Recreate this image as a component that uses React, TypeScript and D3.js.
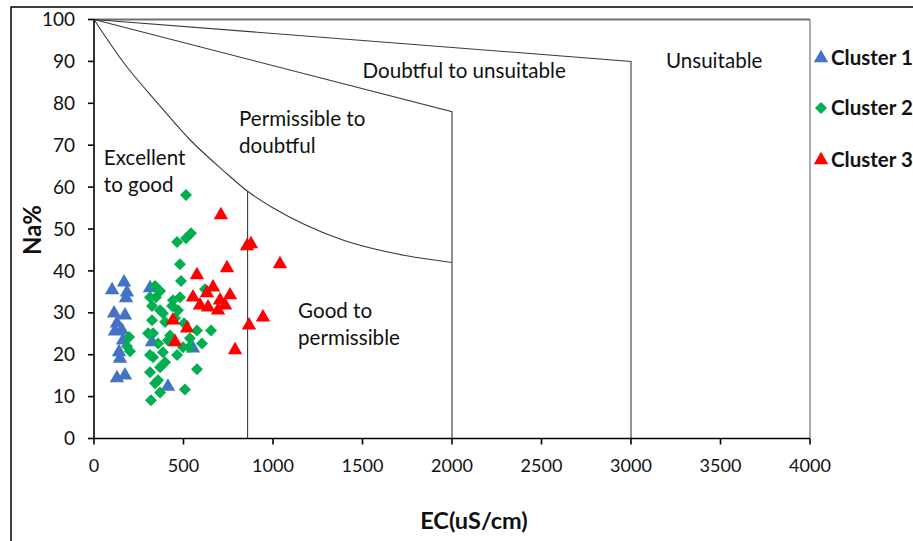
import React from "react";
import * as d3 from "d3";

// ---- Data (EC in uS/cm, Na in %) ----
const cluster1EC = [101, 168, 184, 179, 112, 173, 128, 117, 156, 162, 145, 128, 173, 313, 324, 553, 413, 140];
const cluster1Na = [35.4, 37.3, 34.9, 33.5, 29.9, 29.4, 27.5, 25.6, 25.8, 23.4, 19.1, 14.4, 15.1, 35.9, 23.0, 21.5, 12.4, 20.6];

const cluster2EC = [514, 542, 514, 464, 480, 486, 341, 369, 620, 480, 313, 324, 436, 469, 385, 324, 397, 503, 575, 654, 330, 425, 358, 603, 497, 385, 330, 369, 575, 313, 341, 508, 369, 318, 196, 201, 184, 313, 346, 369, 302, 453, 413, 536, 464, 397, 358, 441, 531];
const cluster2Na = [58.1, 49.0, 47.8, 46.9, 41.6, 37.6, 36.4, 35.2, 35.6, 33.7, 33.7, 31.6, 31.6, 30.6, 29.9, 28.2, 27.8, 27.5, 25.8, 25.8, 25.1, 24.6, 22.7, 22.7, 21.8, 20.6, 19.4, 17.0, 16.5, 15.8, 13.2, 11.7, 11.0, 9.1, 24.2, 20.8, 22.0, 19.9, 33.7, 30.6, 25.1, 28.7, 23.4, 23.9, 19.9, 18.2, 13.9, 33.0, 21.8];

const cluster3EC = [709, 855, 877, 1039, 743, 575, 665, 760, 631, 553, 592, 637, 693, 732, 944, 866, 441, 520, 453, 788, 704];
const cluster3Na = [53.3, 45.9, 46.4, 41.6, 40.7, 39.0, 36.1, 34.2, 34.7, 33.7, 31.8, 31.3, 30.6, 31.8, 28.9, 27.0, 28.2, 26.3, 23.0, 21.1, 33.0];

// Wilcox diagram boundaries [EC, Na]
const unsuitableLine: [number, number][] = [[0, 100], [3000, 90], [3000, 0]];
const doubtfulLine: [number, number][] = [[0, 100], [2000, 78], [2000, 0]];
const permissibleCurve: [number, number][] = [
  [0, 100], [164, 89.8], [350, 80.3], [536, 71.3], [721, 64.0], [858, 59.0],
  [1002, 55.0], [1374, 47.6], [1747, 43.6], [2000, 42],
];
const goodLine: [number, number][] = [[858, 59.0], [858, 0]];

const xTicks = [0, 500, 1000, 1500, 2000, 2500, 3000, 3500, 4000];
const yTicks = [0, 10, 20, 30, 40, 50, 60, 70, 80, 90, 100];

const zoneLabels = [
  { lines: ["Excellent", "to good"], ec: 55, na: 65.3 },
  { lines: ["Permissible to", "doubtful"], ec: 810, na: 74.6 },
  { lines: ["Doubtful to unsuitable"], ec: 1500, na: 86.0 },
  { lines: ["Unsuitable"], ec: 3195, na: 88.4 },
  { lines: ["Good to", "permissible"], ec: 1140, na: 28.8 },
];

const seriesNames = ["Cluster 1", "Cluster 2", "Cluster 3"];
const seriesColors = ["#4472C4", "#00B050", "#FF0000"];

export default function App() {
  const W = 913, H = 541;
  const x = d3.scaleLinear().domain([0, 4000]).range([94, 810]);
  const y = d3.scaleLinear().domain([0, 100]).range([438.5, 19.5]);

  const straight = d3.line<[number, number]>().x(d => x(d[0])).y(d => y(d[1]));
  const smooth = d3.line<[number, number]>().x(d => x(d[0])).y(d => y(d[1])).curve(d3.curveMonotoneX);

  const tri = d3.symbol().type(d3.symbolTriangle).size(90)()!;
  const dia = d3.symbol().type(d3.symbolSquare).size(72)()!;

  const font = "Lato, 'Open Sans', sans-serif";
  const lineColor = "#3a3a3a";

  const series = [
    { ec: cluster1EC, na: cluster1Na, path: tri, rot: 0 },
    { ec: cluster2EC, na: cluster2Na, path: dia, rot: 45 },
    { ec: cluster3EC, na: cluster3Na, path: tri, rot: 0 },
  ];

  return (
    <svg width={W} height={H} style={{ position: "absolute", left: 0, top: 0, background: "#fff" }} fontFamily={font}>
      <rect x={0} y={0} width={W} height={H} fill="#fff" />
      {/* outer frame */}
      <rect x={11} y={7} width={1000} height={1000} fill="none" stroke="#000" strokeWidth={1.5} />

      {/* plot border */}
      <line x1={x(0)} x2={x(4000)} y1={y(100)} y2={y(100)} stroke="#707070" strokeWidth={2} />
      <line x1={x(4000)} x2={x(4000)} y1={y(100)} y2={y(0)} stroke="#808080" strokeWidth={1.3} />

      {/* boundaries */}
      <path d={straight(unsuitableLine)!} fill="none" stroke={lineColor} strokeWidth={1.1} />
      <path d={straight(doubtfulLine)!} fill="none" stroke={lineColor} strokeWidth={1.1} />
      <path d={smooth(permissibleCurve)!} fill="none" stroke={lineColor} strokeWidth={1.1} />
      <path d={straight(goodLine)!} fill="none" stroke={lineColor} strokeWidth={1.1} />

      {/* zone labels */}
      {zoneLabels.map((z, i) => (
        <text key={i} x={x(z.ec)} y={y(z.na)} fontSize={20.6} fill="#111">
          {z.lines.map((l, j) => (
            <tspan key={j} x={x(z.ec)} dy={j === 0 ? 0 : 27.5}>{l}</tspan>
          ))}
        </text>
      ))}

      {/* axes */}
      <line x1={x(0)} x2={x(0)} y1={y(100)} y2={y(0)} stroke="#000" strokeWidth={1.6} />
      <line x1={x(0)} x2={x(4000)} y1={y(0)} y2={y(0)} stroke="#000" strokeWidth={1.6} />
      {yTicks.map(t => (
        <g key={"y" + t}>
          <line x1={x(0) - 6} x2={x(0)} y1={y(t)} y2={y(t)} stroke="#000" strokeWidth={1.6} />
          <text x={75} y={y(t)} dy="0.35em" textAnchor="end" fontSize={19} fill="#111">{t}</text>
        </g>
      ))}
      {xTicks.map(t => (
        <g key={"x" + t}>
          <line x1={x(t)} x2={x(t)} y1={y(0)} y2={y(0) + 6} stroke="#000" strokeWidth={1.6} />
          <text x={x(t)} y={466} dy="0.35em" textAnchor="middle" fontSize={18} fill="#111">{t}</text>
        </g>
      ))}

      {/* points */}
      {series.map((s, si) => (
        <g key={"s" + si} fill={seriesColors[si]}>
          {s.ec.map((v, i) => (
            <path key={i} d={s.path} transform={`translate(${x(v)},${y(s.na[i])}) rotate(${s.rot})`} />
          ))}
        </g>
      ))}

      {/* axis titles */}
      <text x={474} y={521} dy="0.35em" textAnchor="middle" fontSize={23.5} fontWeight="bold" fill="#111">EC(uS/cm)</text>
      <text transform={`translate(33,230) rotate(-90)`} textAnchor="middle" dy="0.35em" fontSize={24} fontWeight="bold" fill="#111">Na%</text>

      {/* legend */}
      {seriesNames.map((n, i) => {
        const cy = [58, 108, 160][i];
        const s = series[i];
        return (
          <g key={"l" + i}>
            <path d={s.path} fill={seriesColors[i]} transform={`translate(821,${cy}) rotate(${s.rot})`} />
            <text x={831} y={cy} dy="0.35em" fontSize={20.5} fontWeight="bold" fill="#111">{n}</text>
          </g>
        );
      })}
    </svg>
  );
}
